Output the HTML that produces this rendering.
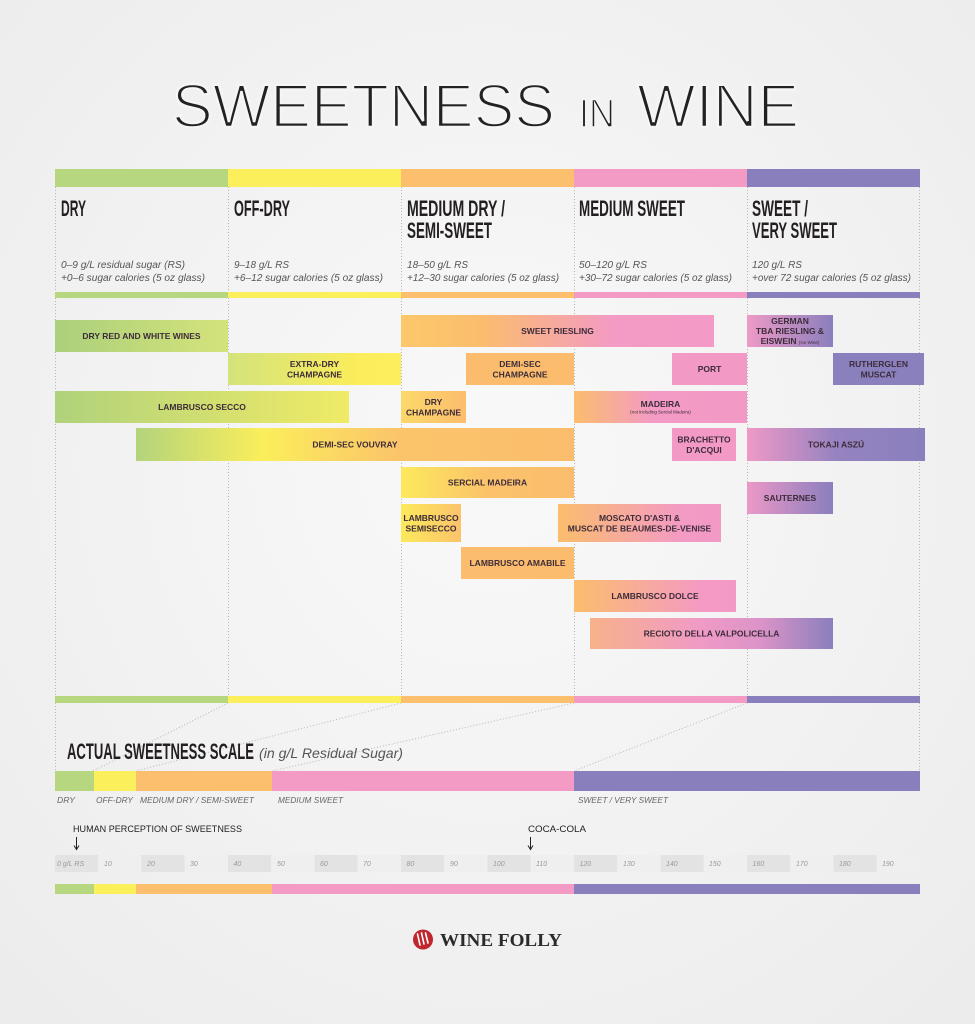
<!DOCTYPE html>
<html><head><meta charset="utf-8"><style>
html,body{margin:0;padding:0;background:#f3f3f3;}
svg{display:block}
</style></head><body>
<svg width="975" height="1024" viewBox="0 0 975 1024" xmlns="http://www.w3.org/2000/svg">
<defs>
<radialGradient id="bg" cx="50%" cy="45%" r="72%">
<stop offset="0" stop-color="#f9f9f9"/><stop offset="1" stop-color="#ececec"/>
</radialGradient>
<linearGradient id="gDryRed" gradientUnits="userSpaceOnUse" x1="55" x2="228" y1="0" y2="0"><stop offset="0" stop-color="#abd07b"/><stop offset="1" stop-color="#d4e37b"/></linearGradient>
<linearGradient id="gExtra" gradientUnits="userSpaceOnUse" x1="228" x2="401" y1="0" y2="0"><stop offset="0" stop-color="#d3e37b"/><stop offset="0.75" stop-color="#fbed5b"/><stop offset="1" stop-color="#fcee5c"/></linearGradient>
<linearGradient id="gSecco" gradientUnits="userSpaceOnUse" x1="55" x2="349" y1="0" y2="0"><stop offset="0" stop-color="#b0d27c"/><stop offset="1" stop-color="#efeb66"/></linearGradient>
<linearGradient id="gVouv" gradientUnits="userSpaceOnUse" x1="136" x2="574" y1="0" y2="0"><stop offset="0" stop-color="#b3d47c"/><stop offset="0.29" stop-color="#fbee5b"/><stop offset="0.6" stop-color="#fbc46a"/><stop offset="1" stop-color="#fbbd6d"/></linearGradient>
<linearGradient id="gDryCh" gradientUnits="userSpaceOnUse" x1="401" x2="466" y1="0" y2="0"><stop offset="0" stop-color="#fcd86a"/><stop offset="1" stop-color="#fbbd6d"/></linearGradient>
<linearGradient id="gRies" gradientUnits="userSpaceOnUse" x1="401" x2="714" y1="0" y2="0"><stop offset="0" stop-color="#fcc86a"/><stop offset="0.25" stop-color="#fbbd6d"/><stop offset="0.68" stop-color="#f39bc4"/><stop offset="1" stop-color="#f39ac6"/></linearGradient>
<linearGradient id="gTBA" gradientUnits="userSpaceOnUse" x1="747" x2="833" y1="0" y2="0"><stop offset="0" stop-color="#ef9ac6"/><stop offset="1" stop-color="#8a7fbd"/></linearGradient>
<linearGradient id="gMad" gradientUnits="userSpaceOnUse" x1="574" x2="747" y1="0" y2="0"><stop offset="0" stop-color="#fbbd6d"/><stop offset="0.45" stop-color="#f39bc4"/><stop offset="1" stop-color="#f29ac5"/></linearGradient>
<linearGradient id="gTok" gradientUnits="userSpaceOnUse" x1="747" x2="925" y1="0" y2="0"><stop offset="0" stop-color="#ef99c6"/><stop offset="0.5" stop-color="#9683c1"/><stop offset="1" stop-color="#8a7fbd"/></linearGradient>
<linearGradient id="gSerc" gradientUnits="userSpaceOnUse" x1="401" x2="574" y1="0" y2="0"><stop offset="0" stop-color="#fde95c"/><stop offset="0.5" stop-color="#fbc26b"/><stop offset="1" stop-color="#fbbd6d"/></linearGradient>
<linearGradient id="gSaut" gradientUnits="userSpaceOnUse" x1="747" x2="833" y1="0" y2="0"><stop offset="0" stop-color="#ec98c7"/><stop offset="1" stop-color="#8a7fbd"/></linearGradient>
<linearGradient id="gSemi" gradientUnits="userSpaceOnUse" x1="401" x2="461" y1="0" y2="0"><stop offset="0" stop-color="#fde95b"/><stop offset="1" stop-color="#fbc36b"/></linearGradient>
<linearGradient id="gMosc" gradientUnits="userSpaceOnUse" x1="558" x2="721" y1="0" y2="0"><stop offset="0" stop-color="#fbbd6d"/><stop offset="0.75" stop-color="#f39bc4"/><stop offset="1" stop-color="#f29ac5"/></linearGradient>
<linearGradient id="gDolce" gradientUnits="userSpaceOnUse" x1="574" x2="736" y1="0" y2="0"><stop offset="0" stop-color="#fbbd6d"/><stop offset="0.8" stop-color="#f49ac5"/><stop offset="1" stop-color="#f29ac5"/></linearGradient>
<linearGradient id="gRec" gradientUnits="userSpaceOnUse" x1="590" x2="833" y1="0" y2="0"><stop offset="0" stop-color="#f8b28a"/><stop offset="0.45" stop-color="#f09ac6"/><stop offset="0.7" stop-color="#dc94c8"/><stop offset="1" stop-color="#8a7fbd"/></linearGradient>
</defs>

<rect x="0" y="0" width="975" height="1024" fill="url(#bg)"/>

<!-- Title -->
<g font-family="Liberation Sans, sans-serif" fill="#222" stroke="#f5f5f5">
<text x="172" y="127" font-size="61" textLength="383" lengthAdjust="spacingAndGlyphs" stroke-width="2.4">SWEETNESS</text>
<text x="579" y="127" font-size="40" textLength="36" lengthAdjust="spacingAndGlyphs" stroke-width="1.6">IN</text>
<text x="637" y="127" font-size="61" textLength="162" lengthAdjust="spacingAndGlyphs" stroke-width="2.4">WINE</text>
</g>

<!-- Top color bar -->
<rect x="55" y="169" width="173" height="18" fill="#b6d67f"/>
<rect x="228" y="169" width="173" height="18" fill="#fcef5c"/>
<rect x="401" y="169" width="173" height="18" fill="#fbbf6e"/>
<rect x="574" y="169" width="173" height="18" fill="#f39bc5"/>
<rect x="747" y="169" width="173" height="18" fill="#8a7fbd"/>

<!-- dotted verticals -->
<g stroke="#b8b8b8" stroke-width="1" stroke-dasharray="1 2">
<line x1="55.5" y1="187" x2="55.5" y2="771"/>
<line x1="228.5" y1="187" x2="228.5" y2="696"/>
<line x1="401.5" y1="187" x2="401.5" y2="696"/>
<line x1="574.5" y1="187" x2="574.5" y2="696"/>
<line x1="747.5" y1="187" x2="747.5" y2="696"/>
<line x1="919.5" y1="187" x2="919.5" y2="771"/>
<line x1="228" y1="703" x2="93" y2="771"/>
<line x1="401" y1="703" x2="136" y2="771"/>
<line x1="574" y1="703" x2="272" y2="771"/>
<line x1="747" y1="703" x2="574" y2="771"/>
</g>

<!-- Column headings -->
<g font-family="Liberation Sans, sans-serif" font-weight="bold" font-size="22" fill="#231f20">
<text x="61" y="216" textLength="25" lengthAdjust="spacingAndGlyphs">DRY</text>
<text x="234" y="216" textLength="56" lengthAdjust="spacingAndGlyphs">OFF-DRY</text>
<text x="407" y="216" textLength="98" lengthAdjust="spacingAndGlyphs">MEDIUM DRY /</text>
<text x="407" y="238" textLength="85" lengthAdjust="spacingAndGlyphs">SEMI-SWEET</text>
<text x="579" y="216" textLength="106" lengthAdjust="spacingAndGlyphs">MEDIUM SWEET</text>
<text x="752" y="216" textLength="56" lengthAdjust="spacingAndGlyphs">SWEET /</text>
<text x="752" y="238" textLength="85" lengthAdjust="spacingAndGlyphs">VERY SWEET</text>
</g>

<g font-family="Liberation Sans, sans-serif" font-style="italic" font-size="10" fill="#555">
<text x="61" y="268" textLength="124" lengthAdjust="spacingAndGlyphs">0–9 g/L residual sugar (RS)</text>
<text x="61" y="281" textLength="144" lengthAdjust="spacingAndGlyphs">+0–6 sugar calories (5 oz glass)</text>
<text x="234" y="268" textLength="55" lengthAdjust="spacingAndGlyphs">9–18 g/L RS</text>
<text x="234" y="281" textLength="149" lengthAdjust="spacingAndGlyphs">+6–12 sugar calories (5 oz glass)</text>
<text x="407" y="268" textLength="61" lengthAdjust="spacingAndGlyphs">18–50 g/L RS</text>
<text x="407" y="281" textLength="152" lengthAdjust="spacingAndGlyphs">+12–30 sugar calories (5 oz glass)</text>
<text x="579" y="268" textLength="68" lengthAdjust="spacingAndGlyphs">50–120 g/L RS</text>
<text x="579" y="281" textLength="153" lengthAdjust="spacingAndGlyphs">+30–72 sugar calories (5 oz glass)</text>
<text x="752" y="268" textLength="50" lengthAdjust="spacingAndGlyphs">120 g/L RS</text>
<text x="752" y="281" textLength="159" lengthAdjust="spacingAndGlyphs">+over 72  sugar calories (5 oz glass)</text>
</g>

<!-- thin bars -->
<rect x="55" y="292" width="173" height="6" fill="#b6d67f"/>
<rect x="228" y="292" width="173" height="6" fill="#fcef5c"/>
<rect x="401" y="292" width="173" height="6" fill="#fbbf6e"/>
<rect x="574" y="292" width="173" height="6" fill="#f39bc5"/>
<rect x="747" y="292" width="173" height="6" fill="#8a7fbd"/>

<rect x="55" y="696" width="173" height="7" fill="#b6d67f"/>
<rect x="228" y="696" width="173" height="7" fill="#fcef5c"/>
<rect x="401" y="696" width="173" height="7" fill="#fbbf6e"/>
<rect x="574" y="696" width="173" height="7" fill="#f39bc5"/>
<rect x="747" y="696" width="173" height="7" fill="#8a7fbd"/>

<!-- Wine boxes -->
<rect x="55" y="320" width="173" height="32" fill="url(#gDryRed)"/>
<rect x="228" y="353" width="173" height="32" fill="url(#gExtra)"/>
<rect x="55" y="391" width="294" height="32" fill="url(#gSecco)"/>
<rect x="401" y="391" width="65" height="32" fill="url(#gDryCh)"/>
<rect x="136" y="428" width="438" height="33" fill="url(#gVouv)"/>
<rect x="401" y="315" width="313" height="32" fill="url(#gRies)"/>
<rect x="466" y="353" width="108" height="32" fill="#fbbd6d"/>
<rect x="672" y="353" width="75" height="32" fill="#f29ac5"/>
<rect x="747" y="315" width="86" height="32" fill="url(#gTBA)"/>
<rect x="833" y="353" width="91" height="32" fill="#8a80bd"/>
<rect x="574" y="391" width="173" height="32" fill="url(#gMad)"/>
<rect x="672" y="428" width="64" height="33" fill="#f29ac5"/>
<rect x="747" y="428" width="178" height="33" fill="url(#gTok)"/>
<rect x="401" y="467" width="173" height="31" fill="url(#gSerc)"/>
<rect x="747" y="482" width="86" height="32" fill="url(#gSaut)"/>
<rect x="401" y="504" width="60" height="38" fill="url(#gSemi)"/>
<rect x="558" y="504" width="163" height="38" fill="url(#gMosc)"/>
<rect x="461" y="547" width="113" height="32" fill="#fbbd6d"/>
<rect x="574" y="580" width="162" height="32" fill="url(#gDolce)"/>
<rect x="590" y="618" width="243" height="31" fill="url(#gRec)"/>

<g font-family="Liberation Sans, sans-serif" font-weight="bold" font-size="8.5" fill="#3d2c3a" text-anchor="middle">
<text x="141.5" y="339">DRY RED AND WHITE WINES</text>
<text x="314.5" y="367">EXTRA-DRY</text>
<text x="314.5" y="377.5">CHAMPAGNE</text>
<text x="202" y="410">LAMBRUSCO SECCO</text>
<text x="433.5" y="405">DRY</text>
<text x="433.5" y="415.5">CHAMPAGNE</text>
<text x="355" y="447.5">DEMI-SEC VOUVRAY</text>
<text x="557.5" y="334">SWEET RIESLING</text>
<text x="520" y="367">DEMI-SEC</text>
<text x="520" y="377.5">CHAMPAGNE</text>
<text x="709.5" y="372">PORT</text>
<text x="790" y="324">GERMAN</text>
<text x="790" y="334">TBA RIESLING &amp;</text>
<text x="790" y="344">EISWEIN <tspan font-size="4.5" font-weight="normal">(Ice Wine)</tspan></text>
<text x="878.5" y="367">RUTHERGLEN</text>
<text x="878.5" y="377.5">MUSCAT</text>
<text x="660.5" y="407">MADEIRA</text>
<text x="660.5" y="413.5" font-size="4.5" font-weight="normal">(not including Sercial Madeira)</text>
<text x="704" y="442.5">BRACHETTO</text>
<text x="704" y="453">D'ACQUI</text>
<text x="836" y="447.5">TOKAJI ASZÚ</text>
<text x="487.5" y="485.5">SERCIAL MADEIRA</text>
<text x="790" y="501">SAUTERNES</text>
<text x="431" y="521">LAMBRUSCO</text>
<text x="431" y="531.5">SEMISECCO</text>
<text x="639.5" y="521">MOSCATO D'ASTI &amp;</text>
<text x="639.5" y="531.5">MUSCAT DE BEAUMES-DE-VENISE</text>
<text x="517.5" y="566">LAMBRUSCO AMABILE</text>
<text x="655" y="599">LAMBRUSCO DOLCE</text>
<text x="711.5" y="636.5">RECIOTO DELLA VALPOLICELLA</text>
</g>

<!-- Actual scale -->
<text x="67" y="759" font-family="Liberation Sans, sans-serif" font-weight="bold" font-size="22" fill="#231f20" textLength="187" lengthAdjust="spacingAndGlyphs">ACTUAL SWEETNESS SCALE</text>
<text x="259" y="758" font-family="Liberation Sans, sans-serif" font-style="italic" font-size="14" fill="#555" textLength="144" lengthAdjust="spacingAndGlyphs">(in g/L Residual Sugar)</text>

<rect x="55" y="771" width="39" height="20" fill="#b6d67f"/>
<rect x="94" y="771" width="42" height="20" fill="#fcef5c"/>
<rect x="136" y="771" width="136" height="20" fill="#fbbf6e"/>
<rect x="272" y="771" width="302" height="20" fill="#f39bc5"/>
<rect x="574" y="771" width="346" height="20" fill="#8a7fbd"/>

<g font-family="Liberation Sans, sans-serif" font-style="italic" font-size="8.5" fill="#666">
<text x="57" y="803" textLength="18" lengthAdjust="spacingAndGlyphs">DRY</text>
<text x="96" y="803" textLength="37" lengthAdjust="spacingAndGlyphs">OFF-DRY</text>
<text x="140" y="803" textLength="114" lengthAdjust="spacingAndGlyphs">MEDIUM DRY / SEMI-SWEET</text>
<text x="278" y="803" textLength="65" lengthAdjust="spacingAndGlyphs">MEDIUM SWEET</text>
<text x="578" y="803" textLength="90" lengthAdjust="spacingAndGlyphs">SWEET / VERY SWEET</text>
</g>

<g font-family="Liberation Sans, sans-serif" font-size="9" fill="#222">
<text x="73" y="832" textLength="169" lengthAdjust="spacingAndGlyphs">HUMAN PERCEPTION OF SWEETNESS</text>
<text x="528" y="832" textLength="58" lengthAdjust="spacingAndGlyphs">COCA-COLA</text>
</g>
<g stroke="#222" stroke-width="1" fill="none">
<path d="M76.5 837 V849 M74 845.5 L76.5 849.5 L79 845.5"/>
<path d="M530.5 837 V849 M528 845.5 L530.5 849.5 L533 845.5"/>
</g>

<!-- tick cells -->
<g>
<rect x="55" y="855" width="43.25" height="17" fill="#e3e3e3"/>
<rect x="98.25" y="855" width="43.25" height="17" fill="#efefef"/>
<rect x="141.5" y="855" width="43.25" height="17" fill="#e3e3e3"/>
<rect x="184.75" y="855" width="43.25" height="17" fill="#efefef"/>
<rect x="228" y="855" width="43.25" height="17" fill="#e3e3e3"/>
<rect x="271.25" y="855" width="43.25" height="17" fill="#efefef"/>
<rect x="314.5" y="855" width="43.25" height="17" fill="#e3e3e3"/>
<rect x="357.75" y="855" width="43.25" height="17" fill="#efefef"/>
<rect x="401" y="855" width="43.25" height="17" fill="#e3e3e3"/>
<rect x="444.25" y="855" width="43.25" height="17" fill="#efefef"/>
<rect x="487.5" y="855" width="43.25" height="17" fill="#e3e3e3"/>
<rect x="530.75" y="855" width="43.25" height="17" fill="#efefef"/>
<rect x="574" y="855" width="43.25" height="17" fill="#e3e3e3"/>
<rect x="617.25" y="855" width="43.25" height="17" fill="#efefef"/>
<rect x="660.5" y="855" width="43.25" height="17" fill="#e3e3e3"/>
<rect x="703.75" y="855" width="43.25" height="17" fill="#efefef"/>
<rect x="747" y="855" width="43.25" height="17" fill="#e3e3e3"/>
<rect x="790.25" y="855" width="43.25" height="17" fill="#efefef"/>
<rect x="833.5" y="855" width="43.25" height="17" fill="#e3e3e3"/>
<rect x="876.75" y="855" width="43.25" height="17" fill="#efefef"/>
</g>
<g font-family="Liberation Sans, sans-serif" font-style="italic" font-size="7" fill="#999">
<text x="57" y="866">0 g/L RS</text>
<text x="104" y="866">10</text>
<text x="147" y="866">20</text>
<text x="190" y="866">30</text>
<text x="233.5" y="866">40</text>
<text x="277" y="866">50</text>
<text x="320" y="866">60</text>
<text x="363" y="866">70</text>
<text x="406.5" y="866">80</text>
<text x="450" y="866">90</text>
<text x="493" y="866">100</text>
<text x="536" y="866">110</text>
<text x="579.5" y="866">120</text>
<text x="623" y="866">130</text>
<text x="666" y="866">140</text>
<text x="709" y="866">150</text>
<text x="752.5" y="866">160</text>
<text x="796" y="866">170</text>
<text x="839" y="866">180</text>
<text x="882" y="866">190</text>
</g>

<rect x="55" y="884" width="39" height="10" fill="#b6d67f"/>
<rect x="94" y="884" width="42" height="10" fill="#fcef5c"/>
<rect x="136" y="884" width="136" height="10" fill="#fbbf6e"/>
<rect x="272" y="884" width="302" height="10" fill="#f39bc5"/>
<rect x="574" y="884" width="346" height="10" fill="#8a7fbd"/>

<!-- Logo -->
<circle cx="423" cy="939.5" r="10" fill="#c0262d"/>
<g stroke="#fff" stroke-width="1.6" stroke-linecap="round">
<line x1="417.5" y1="934" x2="420" y2="945"/>
<line x1="421.5" y1="933" x2="424" y2="944"/>
<line x1="425.5" y1="933" x2="428" y2="943"/>
</g>
<text x="440" y="946" font-family="Liberation Serif, serif" font-weight="bold" font-size="18" fill="#2a2a2a" textLength="122" lengthAdjust="spacingAndGlyphs">WINE FOLLY</text>
</svg>
</body></html>
